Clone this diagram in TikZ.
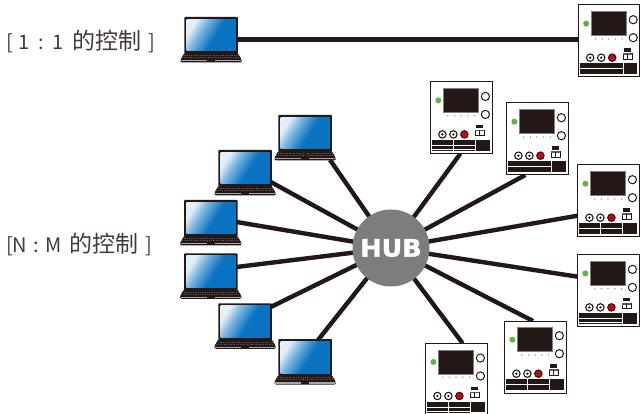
\documentclass[tikz,border=0pt]{standalone}
\usepackage{fontspec}
\setmainfont{Noto Sans CJK SC}
\newfontfamily\hubfont{DejaVu Sans Bold}[FakeStretch=1.06,FakeBold=1.6]
\usetikzlibrary{backgrounds}
\definecolor{ink}{HTML}{231815}
\definecolor{hubgray}{HTML}{7D7D7D}
\definecolor{ledgreen}{HTML}{5DB53C}
\definecolor{termred}{HTML}{E60012}
\definecolor{scrblue}{HTML}{0A74C2}
\newcommand{\cjkpart}[1]{{\fontsize{23}{23}\selectfont #1}}
\pgfdeclarehorizontalshading{scrshade}{100bp}{
  color(0bp)=(scrblue!8!white); color(26bp)=(scrblue!12!white); color(36bp)=(scrblue!50!white);
  color(54bp)=(scrblue); color(100bp)=(scrblue)}
\tikzset{
  x=1pt,y=-1pt,
  lapbox/.style={rectangle,minimum width=61.5pt,minimum height=46pt,inner sep=0pt,outer sep=0pt,anchor=north west},
  meterbox/.style={rectangle,draw=ink,line width=1pt,fill=white,minimum width=61.3pt,minimum height=72pt,inner sep=0pt,outer sep=0pt,anchor=north west},
  link/.style={draw=ink,line width=4.4pt},
  labeltext/.style={inner sep=0pt,font=\fontsize{20}{23}\selectfont,text=ink!85!white,anchor=west},
  hubnode/.style={circle,fill=hubgray,minimum size=77pt,inner sep=0pt,text=white,font=\hubfont\fontsize{24}{24}\selectfont},
  laptop/.pic={
    \fill[ink,rounded corners=0.8pt] (0,0) rectangle (53.5,37);
    \shade[shading=scrshade,shading angle=-32] (2.3,2.3) rectangle (51.6,34);
    \fill[ink,rounded corners=1.5pt] (0,36) -- (53.5,36) -- (57.5,43) -- (57.5,45.5) -- (-4,45.5) -- (-4,43) -- cycle;
    \draw[gray!60!ink,line width=0.8pt,dash pattern=on 1pt off 0.8pt] (-0.5,38.7) -- (54,38.7);
    \draw[gray!60!ink,line width=0.8pt,dash pattern=on 1pt off 0.8pt] (-2,40.8) -- (55.5,40.8);
    \fill[gray!70!white] (-3,43.3) rectangle (56.5,44.5);
    \fill[ink] (23,42.8) rectangle (30.5,45.2);
  },
  meter/.pic={
    \fill[ledgreen] (7.7,18.7) circle (3);
    \fill[ink] (13,6.7) rectangle (48,30.7);
    \draw[gray,line width=0.5pt] (13,6.7) rectangle (48,30.7);
    \draw[ink,fill=white,line width=1pt] (54.7,14.7) circle (4.1);
    \draw[ink,fill=white,line width=1pt] (54.7,32.7) circle (4.1);
    \foreach \dx in {17,23.7,30.3,37,43.7} \fill[gray!70!white] (\dx,34) circle (0.9);
    \draw[ink,fill=white,line width=1.1pt] (11.7,52.7) circle (3.7);
    \fill[ink] (11.7,52.7) circle (1.3);
    \draw[ink,fill=white,line width=1.1pt] (22.7,52.7) circle (3.7);
    \fill[ink] (22.7,52.7) circle (1.3);
    \draw[ink,fill=termred,line width=1.1pt] (33.7,52.7) circle (3.7);
    \fill[ink] (33.7,52.7) circle (1);
    \fill[ink] (45.7,43.3) rectangle (52,46.7);
    \draw[ink,fill=white,line width=0.8pt] (44.6,48.6) rectangle (53.4,54);
    \fill[ink!70!white] (44.6,48.3) rectangle (53.4,49.8);
    \draw[ink,line width=0.6pt] (49,48.6) -- (49,54);
    \fill[ink] (1,58.4) rectangle (44.7,63.4);
    \fill[ink] (1,64.4) rectangle (44.7,67.6);
    \fill[ink] (1,68.4) rectangle (44.7,69.4);
    \fill[ink] (45.6,58.4) rectangle (58.8,69);
  },
  meterdiv/.pic={\fill[white] (22.4,58) rectangle (23.2,70);},
}
\begin{document}
\begin{tikzpicture}
\useasboundingbox (0,0) rectangle (640,414);
% laptops (frame size holders)
\node[lapbox] (l0) at (180.3,17) {};
\node[lapbox] (l1) at (274.3,115) {};
\node[lapbox] (l2) at (214.3,150) {};
\node[lapbox] (l3) at (180,200) {};
\node[lapbox] (l4) at (180,253.3) {};
\node[lapbox] (l5) at (214.3,303.3) {};
\node[lapbox] (l6) at (274.3,339) {};
% instruments
\node[meterbox] (m0) at (578.5,5) {};
\node[meterbox] (m1) at (430.7,81.7) {};
\node[meterbox] (m2) at (506.7,103) {};
\node[meterbox] (m3) at (577.7,165) {};
\node[meterbox] (m4) at (577.7,254.7) {};
\node[meterbox] (m5) at (504.7,321) {};
\node[meterbox] (m6) at (425.7,343.3) {};
% hub
\node[hubnode] (hub) at (391,248) {HUB};
% connectors
\begin{pgfonlayer}{background}
  \draw[link] ([xshift=-5pt,yshift=0.5pt]l0.east) -- ([yshift=1.5pt]m0.west);
  \draw[link] (hub.center) -- ([xshift=25pt,yshift=1pt]l1.south);
  \draw[link] (hub.center) -- ([xshift=-5pt,yshift=-9pt]l2.east);
  \draw[link] (hub.center) -- ([xshift=-5pt,yshift=1pt]l3.east);
  \draw[link] (hub.center) -- ([xshift=-5pt,yshift=9.3pt]l4.east);
  \draw[link] (hub.center) -- ([xshift=-5pt,yshift=19.3pt]l5.east);
  \draw[link] (hub.center) -- ([xshift=13pt,yshift=-1pt]l6.north);
  \draw[link] (hub.center) -- ([xshift=-1pt]m1.south);
  \draw[link] (hub.center) -- ([xshift=-12pt]m2.south);
  \draw[link] (hub.center) -- ([yshift=-14.7pt]m3.west);
  \draw[link] (hub.center) -- ([yshift=14pt]m4.west);
  \draw[link] (hub.center) -- ([xshift=-2.3pt]m5.north);
  \draw[link] (hub.center) -- ([xshift=6.3pt]m6.north);
\end{pgfonlayer}
% laptop drawings
\foreach \n in {l0,l1,l2,l3,l4,l5,l6} \pic at ([xshift=4pt]\n.north west) {laptop};
% instrument drawings
\foreach \n in {m0,m1,m2,m3,m4,m5,m6} \pic at (\n.north west) {meter};
\foreach \n in {m1,m3,m5,m6} \pic at (\n.north west) {meterdiv};
% labels
\node[labeltext] (t1) at (6,41.5) {[\hspace{6pt}1\hspace{8pt}:\hspace{9pt}1\hspace{9pt}\cjkpart{的控制}\hspace{7pt}]};
\node[labeltext] (t2) at (6,244.5) {[N\hspace{6pt}:\hspace{7pt}M\hspace{7pt}\cjkpart{的控制}\hspace{7pt}]};
\end{tikzpicture}
\end{document}
